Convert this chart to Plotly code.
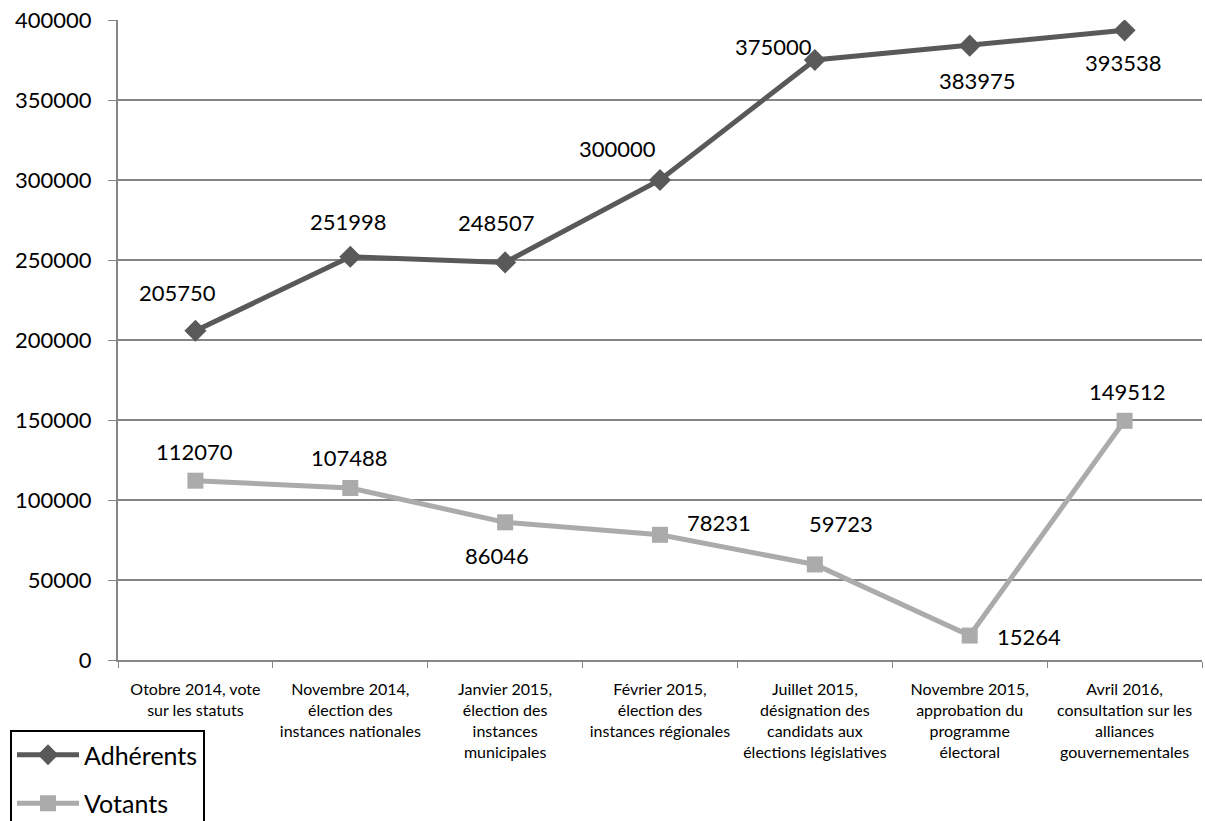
import plotly.graph_objects as go

categories = [
    "Otobre 2014, vote<br>sur les statuts",
    "Novembre 2014,<br>élection des<br>instances nationales",
    "Janvier 2015,<br>élection des<br>instances<br>municipales",
    "Février 2015,<br>élection des<br>instances régionales",
    "Juillet 2015,<br>désignation des<br>candidats aux<br>élections législatives",
    "Novembre 2015,<br>approbation du<br>programme<br>électoral",
    "Avril 2016,<br>consultation sur les<br>alliances<br>gouvernementales",
]
adherents = [205750, 251998, 248507, 300000, 375000, 383975, 393538]
votants = [112070, 107488, 86046, 78231, 59723, 15264, 149512]

# label offsets in pixels (x, y) relative to each point
adh_shift = [(-18, 38), (-2, 35), (-9, 40), (-43, 32), (-41, 14), (8, -35), (-1, -32)]
vot_shift = [(-1, 29), (-1, 31), (-8, -33), (59, 12), (26, 41), (59, -1), (3, 29)]

FONT = "Lato, Calibri, Carlito, sans-serif"

fig = go.Figure()
fig.add_trace(go.Scatter(
    x=categories, y=adherents, name="Adhérents", mode="lines+markers",
    line=dict(color="#595959", width=5),
    marker=dict(symbol="diamond", size=17, color="#595959"),
    legendgroup="a",
))
fig.add_trace(go.Scatter(
    x=categories, y=votants, name="Votants", mode="lines+markers",
    line=dict(color="#ababab", width=5),
    marker=dict(symbol="square", size=16, color="#ababab"),
    legendgroup="v",
))

for vals, shifts in [(adherents, adh_shift), (votants, vot_shift)]:
    for c, v, (dx, dy) in zip(categories, vals, shifts):
        fig.add_annotation(x=c, y=v, text=str(v), showarrow=False,
                           xshift=dx, yshift=dy,
                           font=dict(size=22, color="black", family=FONT))

fig.update_layout(
    width=1205, height=821,
    margin=dict(l=118, r=3, t=20, b=161, autoexpand=False),
    plot_bgcolor="white", paper_bgcolor="white",
    font=dict(family=FONT, color="black"),
    showlegend=True,
    legend=dict(
        xref="container", yref="container",
        x=10 / 1205, y=1 - 730 / 821, xanchor="left", yanchor="top",
        font=dict(size=25, color="black", family=FONT),
        bordercolor="black", borderwidth=2, bgcolor="white",
        tracegroupgap=13, itemwidth=62,
    ),
)
fig.update_xaxes(
    type="category", tickson="boundaries", ticks="outside", ticklen=6,
    tickcolor="#868686", showline=True, linecolor="#868686", linewidth=2,
    showgrid=False, tickfont=dict(size=16, color="black"), tickangle=0,
    ticklabelstandoff=14, range=[-0.5, 6.5], automargin=False,
)
fig.update_yaxes(
    range=[0, 400000], dtick=50000, showgrid=True, gridcolor="#868686",
    gridwidth=1.5, showline=True, linecolor="#868686", linewidth=2,
    ticks="outside", ticklen=8, tickcolor="#868686", zeroline=False,
    tickfont=dict(size=22, color="black"), tickformat="d",
    ticklabelstandoff=12, automargin=False,
)

fig.write_html("out.html", config={"displayModeBar": False},
               post_script="document.body.style.margin='0';")
